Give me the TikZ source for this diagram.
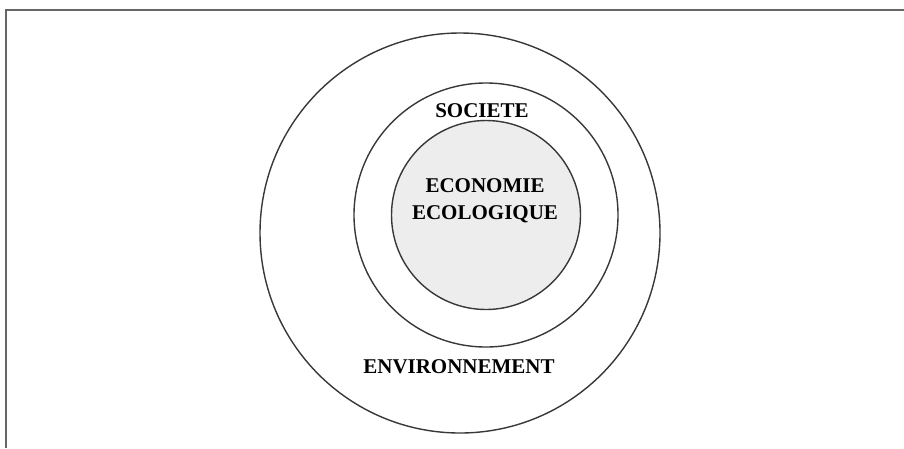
\documentclass[tikz,border=0pt]{standalone}
\usepackage{fontspec}
\setmainfont{Liberation Serif}
\definecolor{ringgray}{gray}{0.22}
\definecolor{corefill}{gray}{0.93}
\tikzset{
  ring/.style={circle,draw=ringgray,line width=1.4pt,inner sep=0pt},
  label/.style={font=\fontsize{21}{27}\selectfont\bfseries,align=center,inner sep=1pt}
}
\begin{document}
\begin{tikzpicture}[x=1pt,y=-1pt]
    \useasboundingbox (0,0) rectangle (904,448);
    % frame
    \coordinate (corner) at (6,10);
    \coordinate (topend) at (904,10);
    \coordinate (leftend) at (6,448);
    \draw[color=gray!80!black,line width=1.5pt] (topend) -- (corner) -- (leftend);

    % rings
    \node[ring,minimum size=400pt] (environnement) at (460,233) {};
    \node[ring,minimum size=264pt] (societe) at (486,215) {};
    \node[ring,fill=corefill,minimum size=189pt] (economie) at (486,215) {};

    % texts
    \node[label] (lbl-soc) at (482,111) {SOCIETE};
    \node[label] (lbl-eco) at (485,201) {ECONOMIE\\ECOLOGIQUE};
    \node[label] (lbl-env) at (459,367) {ENVIRONNEMENT};
\end{tikzpicture}
\end{document}
